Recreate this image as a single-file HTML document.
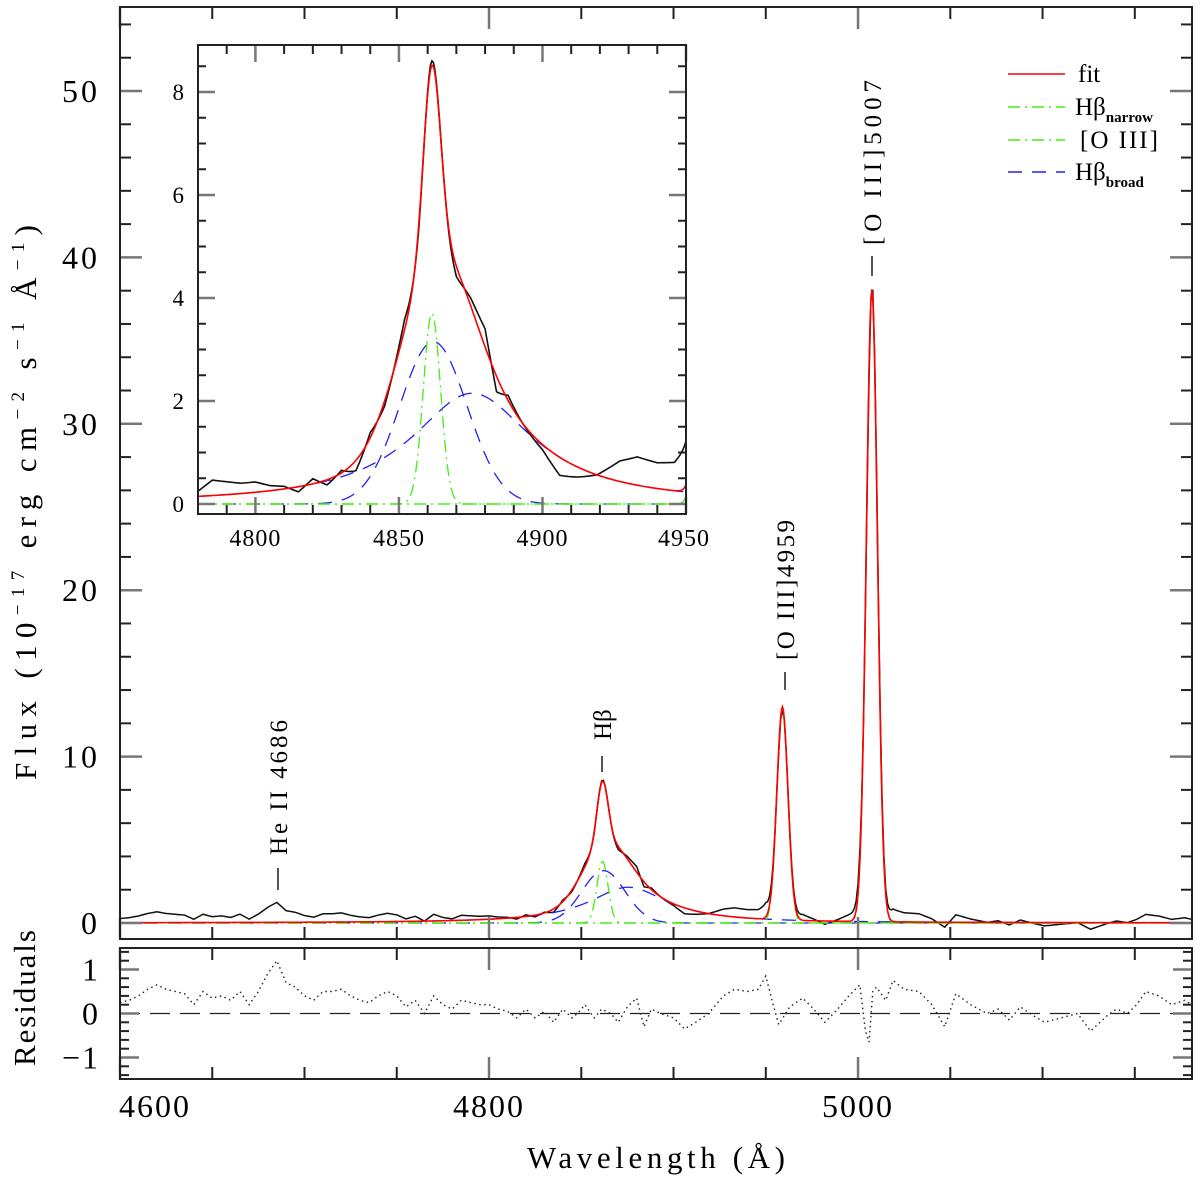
<!DOCTYPE html>
<html><head><meta charset="utf-8"><style>
html,body{margin:0;padding:0;background:#fff;}
svg{display:block;font-family:"Liberation Serif",serif;}
</style></head><body>
<svg id="chart" width="1200" height="1188" viewBox="0 0 1200 1188" xmlns="http://www.w3.org/2000/svg">
<defs>
<clipPath id="clipMain"><rect x="120" y="7" width="1072" height="932"/></clipPath>
<clipPath id="clipRes"><rect x="120" y="948" width="1072" height="131"/></clipPath>
<clipPath id="clipIn"><rect x="198" y="45" width="488" height="469"/></clipPath>
</defs>
<g id="main"></g>
<g id="res"></g>
<g id="inset"></g>
<g id="legend"></g>
<text x="527" y="1168" font-size="31" textLength="258" lengthAdjust="spacing">Wavelength (Å)</text>
<text transform="translate(36,780) rotate(-90)" font-size="31" textLength="555" lengthAdjust="spacing">Flux (10<tspan font-size="19" dy="-12">−17</tspan><tspan dy="12"> erg cm</tspan><tspan font-size="19" dy="-12">−2</tspan><tspan dy="12"> s</tspan><tspan font-size="19" dy="-12">−1</tspan><tspan dy="12"> Å</tspan><tspan font-size="19" dy="-12">−1</tspan><tspan dy="12">)</tspan></text>
<text transform="translate(35,1066) rotate(-90)" font-size="31" textLength="136" lengthAdjust="spacing">Residuals</text>
</svg>
<script>
// Emission line components (centre Å, peak flux, width Å)
const narrowCenters = [4861.5, 4959, 5007.5];
const narrowAmps = [3.7, 12.8, 38.0];
const narrowSigma = [3.0, 3.0, 3.0];
const broad1 = [4862, 3.15, 11.7];      // gaussian: centre, amp, sigma
const broad2 = [4875.5, 2.15, 26];       // lorentzian: centre, amp, gamma
// residuals (data - fit)
const resWave = [4600,4605,4610,4615,4620,4625,4630,4635,4640,4645,4650,4655,4660,4665,4670,4675,4680,4685,4690,4695,4700,4705,4710,4715,4720,4725,4730,4735,4740,4745,4750,4755,4760,4765,4770,4775,4780,4785,4790,4795,4800,4805,4810,4815,4820,4825,4830,4835,4840,4845,4848,4852,4857,4861,4866,4870,4875,4880,4884,4888,4893,4900,4906,4912,4919,4923,4927,4933,4940,4946,4950,4954,4957,4963,4970,4976,4982,4989,4995,5001,5004,5006,5008,5010,5015,5019,5025,5033,5040,5047,5053,5061,5070,5076,5082,5088,5095,5101,5110,5119,5126,5135,5140,5146,5151,5156,5163,5170,5177,5181];
const resVal = [0.25,0.3,0.4,0.55,0.65,0.55,0.5,0.45,0.2,0.5,0.35,0.4,0.3,0.5,0.2,0.5,0.9,1.2,0.7,0.6,0.4,0.3,0.5,0.5,0.55,0.4,0.3,0.25,0.4,0.5,0.4,0.15,0.3,0.0,0.4,0.2,0.1,0.3,0.25,0.2,0.2,0.1,0.05,-0.1,0.1,-0.1,0.05,-0.2,0.1,-0.1,0.0,0.2,-0.1,0.1,0.0,-0.2,0.15,0.35,-0.3,0.1,0.0,-0.1,-0.35,-0.2,0.0,0.2,0.4,0.55,0.5,0.55,0.85,0.2,-0.25,0.15,0.35,0.1,-0.2,0.1,0.4,0.65,-0.4,-0.65,0.5,0.6,0.3,0.75,0.55,0.5,0.2,-0.3,0.45,0.2,0.0,0.1,-0.15,0.15,-0.05,-0.2,-0.1,0.0,-0.4,-0.05,0.1,0.0,0.2,0.5,0.4,0.2,0.3,0.2];
const mainXTicks = [4600,4800,5000];
const mainYTicks = [0,10,20,30,40,50];
const resYTicks = [-1,0,1];
const inXTicks = [4800,4850,4900,4950];
const inYTicks = [0,2,4,6,8];

const NS="http://www.w3.org/2000/svg";
function mk(tag,attrs,parent){const e=document.createElementNS(NS,tag);for(const k in attrs)e.setAttribute(k,attrs[k]);parent.appendChild(e);return e;}
function gauss(x,c,a,s){return a*Math.exp(-(x-c)*(x-c)/(2*s*s));}
function compNarrow(x,i){return gauss(x,narrowCenters[i],narrowAmps[i],narrowSigma[i]);}
function compB1(x){return gauss(x,broad1[0],broad1[1],broad1[2]);}
function compB2(x){const d=(x-broad2[0])/broad2[2];return broad2[1]/(1+d*d);}
function fit(x){return compNarrow(x,0)+compNarrow(x,1)+compNarrow(x,2)+compB1(x)+compB2(x);}
function resid(x){for(let i=0;i<resWave.length-1;i++){if(x<=resWave[i+1]){const t=(x-resWave[i])/(resWave[i+1]-resWave[i]);return resVal[i]+t*(resVal[i+1]-resVal[i]);}}return resVal[resVal.length-1];}

// axes
const mX=v=>120+(v-4600)*(1072/581);
const mY=v=>923-(v)*16.64;
const rY=v=>1013.5-v*44;
const iX=v=>198+(v-4780)*(488/170);
const iY=v=>504-v*51.5;

function path(fn,xs,x0,x1,step,fx,fy){let d="";for(let x=x0;x<=x1+1e-9;x+=step){d+=(d?"L":"M")+fx(x).toFixed(2)+","+fy(fn(x)).toFixed(2);}return d;}

const GREEN="#44ee11",BLUE="#2222ee",RED="#ff0000";
function drawCurves(g,fx,fy,x0,x1,step,clip,dataW){
  const cg=mk('g',{'clip-path':'url(#'+clip+')'},g);
  let e;
  e=mk('path',{d:path(x=>fit(x)+resid(x),null,x0,x1,step,fx,fy),fill:'none',stroke:'#111','stroke-width':dataW},cg);
  
  e=mk('path',{d:path(compB1,null,x0,x1,step,fx,fy),fill:'none',stroke:BLUE,'stroke-width':1.3,'stroke-dasharray':'14,10'},cg);
  
  e=mk('path',{d:path(compB2,null,x0,x1,step,fx,fy),fill:'none',stroke:BLUE,'stroke-width':1.3,'stroke-dasharray':'14,10'},cg);
  
  for(let i=0;i<3;i++){
    e=mk('path',{d:path(x=>compNarrow(x,i),null,x0,x1,step/2,fx,fy),fill:'none',stroke:GREEN,'stroke-width':1.3,'stroke-dasharray':'12,5,2,5'},cg);
    
  }
  e=mk('path',{d:path(fit,null,x0,x1,step/2,fx,fy),fill:'none',stroke:RED,'stroke-width':1.6},cg);
  
}
function frame(g,x,y,w,h){const e=mk('rect',{x:x,y:y,width:w,height:h,fill:'none',stroke:'#222','stroke-width':2},g);}
function xTicks(g,fx,from,to,minor,major,yb,yt,lmin,lmaj){
  for(let v=from;v<=to+1e-9;v+=minor){const isM=Math.abs(v/major-Math.round(v/major))<1e-6;const L=isM?lmaj:lmin;const x=fx(v);const c=isM?'#777':'#222';
    mk('line',{x1:x,x2:x,y1:yb,y2:yb-L,stroke:c,'stroke-width':isM?2.5:2},g);mk('line',{x1:x,x2:x,y1:yt,y2:yt+L,stroke:c,'stroke-width':isM?2.5:2},g);}
}
function yTicks(g,fy,from,to,minor,major,xl,xr,lmin,lmaj){
  for(let v=from;v<=to+1e-9;v+=minor){const isM=Math.abs(v/major-Math.round(v/major))<1e-6;const L=isM?lmaj:lmin;const y=fy(v);const c=isM?'#777':'#222';
    mk('line',{x1:xl,x2:xl+L,y1:y,y2:y,stroke:c,'stroke-width':isM?2.5:2},g);mk('line',{x1:xr,x2:xr-L,y1:y,y2:y,stroke:c,'stroke-width':isM?2.5:2},g);}
}

// MAIN
const gm=document.getElementById('main');
mk('rect',{x:120,y:7,width:1072,height:932,fill:'#fff'},gm);
drawCurves(gm,mX,mY,4600,5181,1,'clipMain',1.5);
xTicks(gm,mX,4600,5150,50,200,939,7,12,22);
yTicks(gm,mY,0,54,2,10,120,1192,11,22);
frame(gm,120,7,1072,932);
mainYTicks.forEach(v=>{const t=mk('text',{x:100,y:mY(v)+11,'font-size':32,'text-anchor':'end','letter-spacing':3},gm);t.textContent=v;});
mainXTicks.forEach(v=>{const t=mk('text',{x:(v==4600?155:mX(v)),y:1117,'font-size':32,'text-anchor':'middle','letter-spacing':2},gm);t.textContent=v;});
// annotations: text, x, baseline-y (bottom), tick y1, tick y2, text length (0 = natural)
const ann=[["He II 4686",278,855,868,890,135],["Hβ",602,740,756,772,0],["[O III]4959",785,660,672,690,140],["[O III]5007",872,245,256,276,165]];
ann.forEach(a=>{const attrs={transform:'translate('+(a[1]+9)+','+a[2]+') rotate(-90)','font-size':25};if(a[5]){attrs.textLength=a[5];attrs.lengthAdjust='spacing';}
  const t=mk('text',attrs,gm);t.textContent=a[0];
  mk('line',{x1:a[1],x2:a[1],y1:a[3],y2:a[4],stroke:'#555','stroke-width':2},gm);});

// RESIDUALS
const gr=document.getElementById('res');
mk('rect',{x:120,y:948,width:1072,height:131,fill:'#fff'},gr);
let e=mk('line',{x1:120,x2:1192,y1:rY(0),y2:rY(0),stroke:'#222','stroke-width':1.3,'stroke-dasharray':'20,10'},gr);

const rg=mk('g',{'clip-path':'url(#clipRes)'},gr);
e=mk('path',{d:path(resid,null,4600,5181,1,mX,rY),fill:'none',stroke:'#222','stroke-width':1.4,'stroke-dasharray':'1.5,3.5'},rg);

xTicks(gr,mX,4600,5150,50,200,1079,948,12,22);
yTicks(gr,rY,-1.4,1.4,0.2,1,120,1192,9,19);
frame(gr,120,948,1072,131);
resYTicks.forEach(v=>{const t=mk('text',{x:100,y:rY(v)+11,'font-size':32,'text-anchor':'end','letter-spacing':2},gr);t.textContent=v<0?'−1':v;});

// INSET
const gi=document.getElementById('inset');
mk('rect',{x:198,y:45,width:488,height:469,fill:'#fff'},gi);
drawCurves(gi,iX,iY,4780,4950,0.5,'clipIn',1.6);
xTicks(gi,iX,4780,4950,10,50,514,45,9,17);
yTicks(gi,iY,0,8.5,0.5,2,198,686,8,17);
frame(gi,198,45,488,469);
inYTicks.forEach(v=>{const t=mk('text',{x:184,y:iY(v)+8,'font-size':23,'text-anchor':'end'},gi);t.textContent=v;});
inXTicks.forEach(v=>{const t=mk('text',{x:iX(v)+(v==4950?-2:0),y:546,'font-size':24,'text-anchor':'middle','letter-spacing':1},gi);t.textContent=v;});

// LEGEND
const gl=document.getElementById('legend');
const leg=[["fit",RED,"none",74,""],["Hβ",GREEN,"12,5,2,5",107,"narrow"],["[O III]",GREEN,"12,5,2,5",140,""],["Hβ",BLUE,"14,10",172,"broad"]];
leg.forEach(l=>{const g=mk('g',{},gl);
  mk('line',{x1:1008,x2:1065,y1:l[3],y2:l[3],stroke:l[1],'stroke-width':1.6,'stroke-dasharray':l[2]},g);
  const t=mk('text',{x:l[0]=="[O III]"?1080:(l[0]=="fit"?1078:1075),y:l[3]+8,'font-size':25,'letter-spacing':l[0]=="[O III]"?2:0},g);t.textContent=l[0];
  if(l[4]){const s=mk('tspan',{'font-size':15,dy:7,'font-weight':'bold'},t);s.textContent=l[4];}});
</script>
</body></html>
